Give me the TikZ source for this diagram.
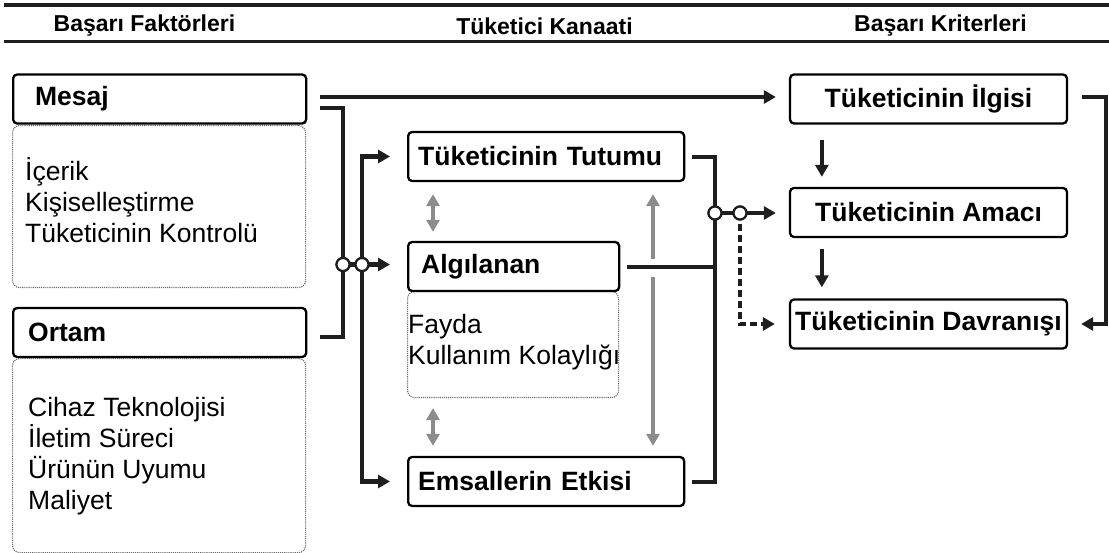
\documentclass[tikz,border=0pt]{standalone}
\usepackage{fontspec}
\setmainfont{Liberation Sans}
\usetikzlibrary{arrows.meta}
\definecolor{ln}{HTML}{1E1E1E}
\definecolor{gr}{HTML}{8C8C8C}
\begin{document}
\begin{tikzpicture}[x=1pt,y=-1pt,
  tbox/.style={draw=black, line width=2.3pt, rounded corners=4pt, minimum height=49pt,
    font=\bfseries\fontsize{26.5}{30}\selectfont, inner ysep=0pt, align=left, fill=white},
  rbox/.style={draw=black, line width=2.3pt, rounded corners=4pt, minimum height=49pt,
    minimum width=277pt, inner xsep=2pt, font=\bfseries\fontsize{26.5}{30}\selectfont, fill=white},
  dbox/.style={draw=black!60, densely dotted, line width=1.1pt, rounded corners=7pt, inner sep=0pt},
  dtext/.style={font=\fontsize{26.5}{31}\selectfont, align=left, inner sep=0pt, anchor=west},
  head/.style={font=\bfseries\fontsize{23}{26}\selectfont, inner sep=0pt},
  conn/.style={draw=ln, line width=4.6pt},
  tip/.tip={Triangle[length=12pt,width=13pt]},
  arr/.style={conn, -tip},
  garr/.style={draw=gr, line width=4.6pt},
  dot/.style={circle, draw=ln, fill=white, line width=2.2pt, minimum size=13pt, inner sep=0pt}
]
\useasboundingbox (0,0) rectangle (1109,553);

% header rules and headings
\coordinate (r1a) at (4,5); \coordinate (r1b) at (1109,5);
\coordinate (r2a) at (4,41.5); \coordinate (r2b) at (1109,41.5);
\draw[draw=ln, line width=3.2pt] (r1a) -- (r1b);
\draw[draw=ln, line width=3.2pt] (r2a) -- (r2b);
\node[head] (h1) at (144.5,26) {Başarı Faktörleri};
\node[head] (h2) at (544.5,26) {Tüketici Kanaati};
\node[head] (h3) at (940.5,26) {Başarı Kriterleri};

% detail boxes
\node[dbox, anchor=north west, minimum width=293pt, minimum height=162pt] (mesajd) at (12,125) {};
\node[dbox, anchor=north west, minimum width=293pt, minimum height=194pt] (ortamd) at (12,358) {};
\node[dbox, anchor=north west, minimum width=211pt, minimum height=106pt] (algid) at (407,291) {};
\node[dtext] (mesajt) at (25,200) {İçerik\\Kişiselleştirme\\Tüketicinin Kontrolü};
\node[dtext] (ortamt) at (28,456) {Cihaz Teknolojisi\\İletim Süreci\\Ürünün Uyumu\\Maliyet};
\node[dtext] (algit) at (408,342) {Fayda\\Kullanım Kolaylığı};

% title boxes
\node[tbox, anchor=west, inner xsep=22pt, text width=249pt] (mesaj) at (12,99) {Mesaj};
\node[tbox, anchor=west, inner xsep=15pt, text width=263pt] (ortam) at (12,332.5) {Ortam};
\node[tbox, anchor=west, inner xsep=10pt, text width=256pt] (tutum) at (407,156.5) {Tüketicinin Tutumu};
\node[tbox, anchor=west, inner xsep=13pt, text width=185pt] (algi) at (407,266.5) {Algılanan};
\node[tbox, anchor=west, inner xsep=10pt, text width=256pt] (emsal) at (407,481.5) {Emsallerin Etkisi};
\node[rbox] (ilgi) at (928.5,99) {Tüketicinin İlgisi};
\node[rbox] (amac) at (928.5,212.5) {Tüketicinin Amacı};
\node[rbox] (davr) at (928.5,324) {Tüketicinin Davranışı};

% coordinates of junctions
\coordinate (m1) at (320,97);
\coordinate (m2) at (320,108);
\coordinate (o1) at (320,337);
\coordinate (bx) at (343,0);
\coordinate (cx) at (362,0);
\coordinate (rx) at (715,0);
\coordinate (t1) at (692,157);
\coordinate (a1) at (627,267);
\coordinate (e1) at (692,482);
\coordinate (i1) at (1082,97);
\coordinate (rr) at (1106,0);

% left connectors
\draw[arr, shorten >=13pt] (m1) -- (m1 -| ilgi.west);
\draw[conn] (m2) -- (m2 -| bx) -- (o1 -| bx) -- (o1);
\draw[conn, tip-tip, shorten <=17pt, shorten >=17pt] (tutum.west) -- (tutum.west -| cx) -- (emsal.west -| cx) -- (emsal.west);
\node[dot] (c1) at (343,264.5) {};
\node[dot] (c2) at (362,264.5) {};
\draw[arr, shorten >=17pt] (c1.center) -- (c1.center -| algi.west);
\node[dot] at (c1) {};
\node[dot] at (c2) {};

% gray arrows
\draw[garr, tip-tip] ([shift={(26,12)}]tutum.south west) -- ([shift={(26,-9)}]algi.north west);
\draw[garr, tip-tip] ([shift={(26,10)}]algid.south west) -- ([shift={(26,-10)}]emsal.north west);
\coordinate (g1) at (653,259);
\coordinate (g2) at (653,277);
\draw[garr, -tip] (g1) -- ([yshift=-12pt]tutum.south -| g1);
\draw[garr, -tip] (g2) -- ([yshift=10pt]emsal.north -| g2);

% right connectors
\draw[conn] (t1) -- (t1 -| rx) -- (e1 -| rx) -- (e1);
\draw[conn] (a1) -- (a1 -| rx);
\node[dot] (c3) at (715,213) {};
\node[dot] (c4) at (740,213) {};
\draw[arr, shorten >=13pt] (c3.center) -- (c3.center -| amac.west);
\draw[draw=ln, line width=3.8pt, dash pattern=on 7pt off 4pt, -tip, shorten >=14pt] (c4.center) -- (c4.center |- davr.west) -- (davr.west);
\node[dot] at (c3) {};
\node[dot] at (c4) {};

\draw[arr] ([shift={(33,15)}]ilgi.south west) -- ([shift={(33,-10)}]amac.north west);
\draw[arr] ([shift={(33,11)}]amac.south west) -- ([shift={(33,-11)}]davr.north west);
\draw[conn, -tip, shorten >=13pt] (i1) -- (i1 -| rr) -- (davr.east -| rr) -- (davr.east);
\end{tikzpicture}
\end{document}
